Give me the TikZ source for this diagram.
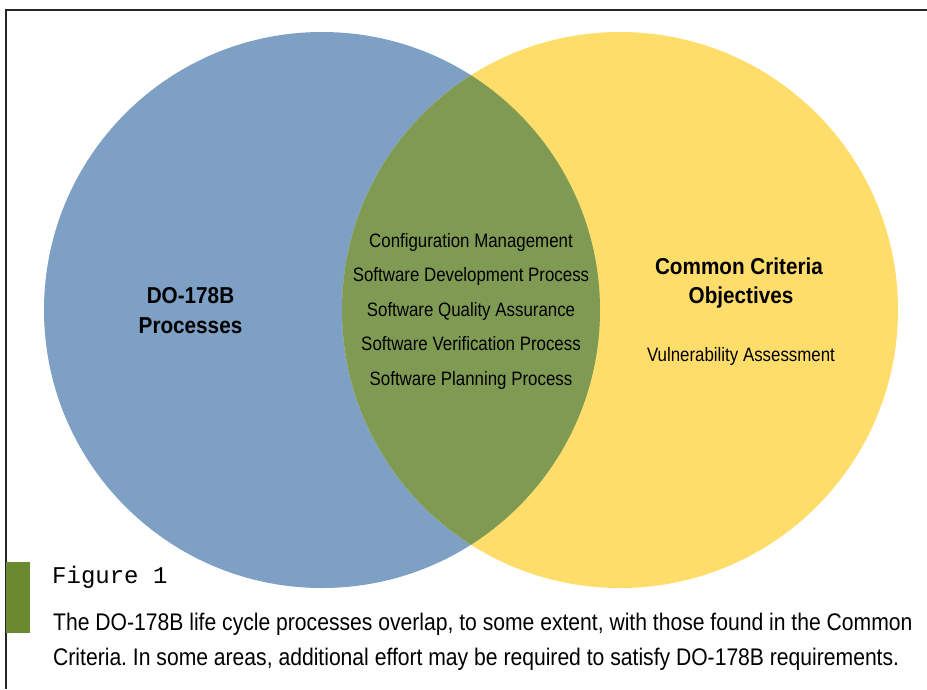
\documentclass[tikz,border=0pt]{standalone}
\usepackage{fontspec}
\setmainfont{Liberation Sans}
\newfontfamily\condA{Liberation Sans}[FakeStretch=0.87]
\newfontfamily\condCap{Liberation Sans}[FakeStretch=0.88]
\newfontfamily\condBold{Liberation Sans}[FakeStretch=0.9]
\newfontfamily\monofig{Liberation Mono}
\definecolor{vblue}{RGB}{125,160,196}
\definecolor{vyellow}{RGB}{254,221,106}
\definecolor{vgreen}{RGB}{127,154,82}
\definecolor{barg}{RGB}{107,137,47}
\begin{document}
\frenchspacing
\begin{tikzpicture}[x=1pt,y=-1pt,
  txt/.style={anchor=base,inner sep=0pt,font=\condA\fontsize{19.4pt}{22pt}\selectfont},
  head/.style={anchor=base,inner sep=0pt,font=\condBold\bfseries\fontsize{23pt}{26pt}\selectfont},
  captxt/.style={anchor=base west,inner sep=0pt,font=\condCap\fontsize{24pt}{28pt}\selectfont},
  frameline/.style={line width=1.8pt,black!85}]
\useasboundingbox (0,0) rectangle (927,689);
% circles
\fill[vblue] (322,310) circle[radius=278];
\fill[vyellow] (620,310) circle[radius=278];
\begin{scope}
  \clip (322,310) circle[radius=278];
  \fill[vgreen] (620,310) circle[radius=278];
\end{scope}
% frame
\coordinate (tl) at (6,10);
\coordinate (tr) at (927,10);
\coordinate (bl) at (6,689);
\draw[frameline] (tr) -- (tl) -- (bl);
% green bar
\fill[barg] (6,562) rectangle (30,633);
% texts
\node[head] (do1) at (190.5,303.3) {DO-178B};
\node[head] (do2) at (190.5,333.3) {Processes};
\node[head] (cc1) at (739,274.3) {Common Criteria};
\node[head] (cc2) at (741,303.5) {Objectives};
\node[txt] (va) at (741,361.7) {Vulnerability Assessment};
\node[txt] (i1) at (471,247) {Configuration Management};
\node[txt] (i2) at (471,281.7) {Software Development Process};
\node[txt] (i3) at (471,316.5) {Software Quality Assurance};
\node[txt] (i4) at (471,350.9) {Software Verification Process};
\node[txt] (i5) at (471,385.6) {Software Planning Process};
\node[anchor=base west,inner sep=0pt,font=\monofig\fontsize{24pt}{28pt}\selectfont] (fig) at (52,583) {Figure 1};
\node[captxt] (c1) at (53,630.7) {The DO-178B life cycle processes overlap, to some extent, with those found in the Common};
\node[captxt] (c2) at (53,665) {Criteria. In some areas, additional effort may be required to satisfy DO-178B requirements.};
\end{tikzpicture}
\end{document}
